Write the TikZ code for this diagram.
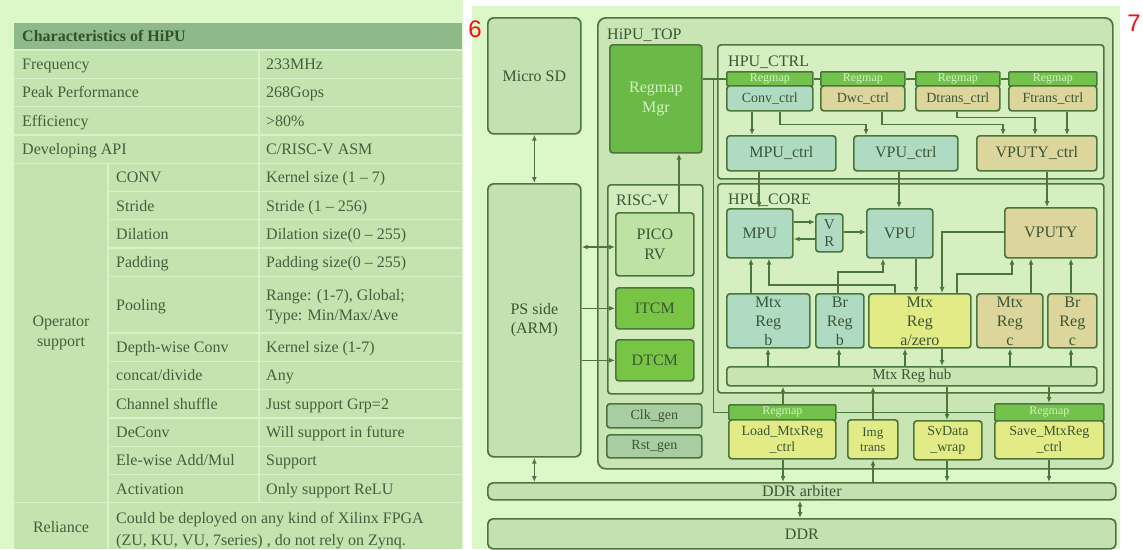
\documentclass[tikz,border=0pt]{standalone}
\usepackage{fontspec}
\setmainfont{Liberation Serif}
\newfontfamily\sansf{Liberation Sans}
\usetikzlibrary{arrows.meta,calc}
\definecolor{bgl}{HTML}{DCF7C8}
\definecolor{thead}{HTML}{8DBA88}
\definecolor{tbody}{HTML}{C3E4AF}
\definecolor{tgrid}{HTML}{D8F1C8}
\definecolor{ttext}{HTML}{435F3D}
\definecolor{thtext}{HTML}{34502E}
\definecolor{lc}{HTML}{4C763C}
\definecolor{tc}{HTML}{3A5634}
\definecolor{sdf}{HTML}{C4E1B1}
\definecolor{topf}{HTML}{C8E5B3}
\definecolor{ctrlf}{HTML}{D5EFC0}
\definecolor{riscf}{HTML}{D2ECBD}
\definecolor{mgrf}{HTML}{6BBA47}
\definecolor{mgrt}{HTML}{D6F2C2}
\definecolor{picof}{HTML}{BEE2A4}
\definecolor{itcmf}{HTML}{78C545}
\definecolor{hdrf}{HTML}{72C24C}
\definecolor{tealf}{HTML}{B0DBC3}
\definecolor{tanf}{HTML}{DCD69C}
\definecolor{yelf}{HTML}{E3EB86}
\definecolor{hubf}{HTML}{C9E3B1}
\definecolor{genf}{HTML}{A9CDA2}
\definecolor{rednum}{HTML}{F01010}
\newcommand\Bx[7][]{\pgfmathsetmacro\bxw{#5-#3}\pgfmathsetmacro\bxh{#6-#4}%
  \node[bx,#1,anchor=north west,minimum width=\bxw pt,minimum height=\bxh pt] (#2) at (#3,#4) {#7};}
\begin{document}
\begin{tikzpicture}[x=1pt,y=-1pt,
  bx/.style={draw=lc,line width=1.7pt,rounded corners=3pt,inner sep=0pt,align=center,text=tc,font=\fontsize{16}{19}\selectfont},
  f14/.style={font=\fontsize{14}{16}\selectfont},
  f13/.style={font=\fontsize{13}{15}\selectfont},
  regs/.style={font=\fontsize{16}{19}\selectfont},
  hdr/.style={fill=hdrf,text=mgrt,rounded corners=1pt,font=\fontsize{12}{12}\selectfont},
  lbl/.style={anchor=base west,inner sep=0pt,text=tc,font=\fontsize{16}{19}\selectfont},
  tl/.style={anchor=base west,inner sep=0pt,text=ttext,font=\fontsize{16}{19}\selectfont},
  tgl/.style={draw=tgrid,line width=1.3pt},
  ln/.style={draw=lc,line width=1.4pt},
  arr/.style={ln,-{Latex[length=6pt,width=5pt]}},
  darr/.style={ln,{Latex[length=6pt,width=5pt]}-{Latex[length=6pt,width=5pt]}},
  num/.style={text=rednum,inner sep=0pt,font=\sansf\fontsize{24}{24}\selectfont}
]
\useasboundingbox (0,0) rectangle (1143,549);
\fill[white] (0,0) rectangle (1143,549);
% ---------------- left: table ----------------
\fill[bgl] (0,0) rectangle (463,549);
\fill[thead] (14,23) rectangle (462,50);
\fill[tbody] (14,50) rectangle (462,549);
\foreach \y in {50,78.3,106.6,134.9,163.2,502.8} \draw[tgl] (14,\y) -- (462,\y);
\foreach \y in {191.5,219.8,248.1,276.4,333,361.3,389.6,417.9,446.2,474.5} \draw[tgl] (108,\y) -- (462,\y);
\draw[tgl] (259,50) -- (259,502.8);
\draw[tgl] (108,163.2) -- (108,549);
\node[anchor=base west,inner sep=0pt,text=thtext,font=\bfseries\fontsize{16}{19}\selectfont] (th) at (22,41) {Characteristics of HiPU};
\node[tl] (a1) at (22,69.6) {Frequency};          \node[tl] (b1) at (266,69.6) {233MHz};
\node[tl] (a2) at (22,97.9) {Peak Performance};   \node[tl] (b2) at (266,97.9) {268Gops};
\node[tl] (a3) at (22,126.2) {Efficiency};        \node[tl] (b3) at (266,126.2) {>80\%};
\node[tl] (a4) at (22,154.5) {Developing API};    \node[tl] (b4) at (266,154.5) {C/RISC-V ASM};
\node[tl] (a5) at (116,182.8) {CONV};             \node[tl] (b5) at (266,182.8) {Kernel size (1 – 7)};
\node[tl] (a6) at (116,211.1) {Stride};           \node[tl] (b6) at (266,211.1) {Stride (1 – 256)};
\node[tl] (a7) at (116,239.4) {Dilation};         \node[tl] (b7) at (266,239.4) {Dilation size(0 – 255)};
\node[tl] (a8) at (116,267.7) {Padding};          \node[tl] (b8) at (266,267.7) {Padding size(0 – 255)};
\node[tl] (a9) at (116,310.2) {Pooling};
\node[tl] (b9a) at (266,300) {Range: (1-7), Global;};
\node[tl] (b9b) at (266,320) {Type: Min/Max/Ave};
\node[tl] (a10) at (116,352.6) {Depth-wise Conv}; \node[tl] (b10) at (266,352.6) {Kernel size (1-7)};
\node[tl] (a11) at (116,380.9) {concat/divide};   \node[tl] (b11) at (266,380.9) {Any};
\node[tl] (a12) at (116,409.2) {Channel shuffle}; \node[tl] (b12) at (266,409.2) {Just support Grp=2};
\node[tl] (a13) at (116,437.5) {DeConv};          \node[tl] (b13) at (266,437.5) {Will support in future};
\node[tl] (a14) at (116,465.8) {Ele-wise Add/Mul};\node[tl] (b14) at (266,465.8) {Support};
\node[tl] (a15) at (116,494.1) {Activation};      \node[tl] (b15) at (266,494.1) {Only support ReLU};
\node[text=ttext,align=center,inner sep=0pt,font=\fontsize{16}{20}\selectfont] (op) at (61,333) {Operator\\support};
\node[text=ttext,inner sep=0pt,font=\fontsize{16}{19}\selectfont] (rel) at (61,527) {Reliance};
\node[tl] (r1) at (116,523.5) {Could be deployed on any kind of Xilinx FPGA};
\node[tl] (r2) at (116,545.5) {(ZU, KU, VU, 7series) , do not rely on Zynq.};
% ---------------- right: block diagram ----------------
\fill[bgl] (472,6) rectangle (1120,549);
\node[num] (n6) at (475,29) {6};
\node[num] (n7) at (1134,23) {7};
\Bx[fill=sdf,rounded corners=6pt]{microsd}{487}{17}{580}{133}{Micro SD}
\Bx[fill=sdf,rounded corners=6pt]{pside}{487}{183}{580}{456}{PS side\\(ARM)}
\Bx[fill=topf,rounded corners=8pt]{hipu}{597}{17}{1112}{468}{}
\node[lbl] (hipulbl) at (607,39) {HiPU\_TOP};
\Bx[fill=mgrf,text=mgrt,font=\fontsize{16}{20}\selectfont]{regmgr}{609}{44}{701}{152}{Regmap\\Mgr}
\Bx[fill=riscf]{riscv}{607}{184}{702}{393}{}
\node[lbl] (risclbl) at (616,205) {RISC-V};
\Bx[fill=picof,font=\fontsize{16}{20}\selectfont]{pico}{615}{212}{693}{275}{PICO\\RV}
\Bx[fill=itcmf]{itcm}{615}{287}{693}{328}{ITCM}
\Bx[fill=itcmf]{dtcm}{615}{339}{693}{380}{DTCM}
\Bx[fill=genf,f14]{clk}{606}{403}{701}{427}{Clk\_gen}
\Bx[fill=genf,f14]{rst}{606}{434}{701}{457}{Rst\_gen}
% HPU_CTRL
\Bx[fill=ctrlf]{hpuctrl}{717}{44}{1103}{178}{}
\node[lbl] (ctrllbl) at (728,66) {HPU\_CTRL};
\Bx[hdr]{convh}{726}{71}{812}{85}{Regmap}
\Bx[fill=tealf,f14]{conv}{726}{85}{812}{110}{Conv\_ctrl}
\Bx[hdr]{dwch}{820}{71}{904}{85}{Regmap}
\Bx[fill=tanf,f14]{dwc}{820}{85}{904}{110}{Dwc\_ctrl}
\Bx[hdr]{dtransh}{915}{71}{999}{85}{Regmap}
\Bx[fill=tanf,f14]{dtrans}{915}{85}{999}{110}{Dtrans\_ctrl}
\Bx[hdr]{ftransh}{1008}{71}{1096}{85}{Regmap}
\Bx[fill=tanf,f14]{ftrans}{1008}{85}{1096}{110}{Ftrans\_ctrl}
\Bx[fill=tealf]{mpuctrl}{726}{135}{835}{170}{MPU\_ctrl}
\Bx[fill=tealf]{vpuctrl}{853}{135}{957}{170}{VPU\_ctrl}
\Bx[fill=tanf]{vputyctrl}{976}{135}{1096}{170}{VPUTY\_ctrl}
% HPU_CORE
\Bx[fill=ctrlf]{hpucore}{717}{183}{1103}{392}{}
\node[lbl] (corelbl) at (728,204) {HPU\_CORE};
\Bx[fill=tealf]{mpu}{726}{208}{792}{257}{MPU}
\Bx[fill=tealf,font=\fontsize{15}{17}\selectfont]{vr}{815}{213}{842}{251}{V\\R}
\Bx[fill=tealf]{vpu}{866}{208}{932}{257}{VPU}
\Bx[fill=tanf]{vputy}{1004}{207}{1096}{257}{VPUTY}
\Bx[fill=tealf,regs]{mtxb}{726}{293}{809}{347}{Mtx\\Reg\\b}
\Bx[fill=tealf,regs]{brb}{815}{293}{863}{347}{Br\\Reg\\b}
\Bx[fill=yelf,regs]{mtxa}{868}{293}{970}{347}{Mtx\\Reg\\a/zero}
\Bx[fill=tanf,regs]{mtxc}{976}{293}{1042}{347}{Mtx\\Reg\\c}
\Bx[fill=tanf,regs]{brc}{1047}{293}{1096}{347}{Br\\Reg\\c}
\Bx[fill=hubf,font=\fontsize{15}{17}\selectfont]{hub}{726}{366}{1096}{385}{Mtx Reg hub}
% bottom row
\Bx[hdr]{loadh}{728}{404}{835}{419}{Regmap}
\Bx[fill=yelf,f14]{load}{728}{419}{835}{458}{Load\_MtxReg\\\_ctrl}
\Bx[fill=yelf,f13]{img}{847}{419}{897}{458}{Img\\trans}
\Bx[fill=yelf,f14]{svdata}{913}{420}{981}{459}{SvData\\\_wrap}
\Bx[hdr]{saveh}{994}{403}{1103}{420}{Regmap}
\Bx[fill=yelf,f14]{save}{994}{420}{1103}{458}{Save\_MtxReg\\\_ctrl}
\Bx[fill=sdf,rounded corners=5pt]{arbiter}{487}{482}{1115}{499}{DDR arbiter}
\Bx[fill=sdf,rounded corners=5pt]{ddr}{487}{518}{1115}{548}{DDR}
% ---------------- connectors ----------------
\draw[darr] (microsd.south) -- (pside.north);
\draw[darr] (pside.east |- 0,247) -- (pico.west |- 0,247);
\draw[arr] (pside.east |- itcm.west) -- (itcm.west);
\draw[arr] (pside.east |- dtcm.west) -- (dtcm.west);
\draw[arr] (pico.north -| 679,0) -- (regmgr.south -| 679,0);
% regmap bus
\draw[ln] (regmgr.east |- convh.west) -- (convh.west);
\draw[ln] (convh.east) -- (dwch.west);
\draw[ln] (dwch.east) -- (dtransh.west);
\draw[ln] (dtransh.east) -- (ftransh.west);
\draw[ln] ($(regmgr.east |- convh.west)+(11,0)$) |- (loadh.west);
\draw[ln] (loadh.east) -- (saveh.west |- loadh.east);
% ctrl
\draw[arr] (conv.south -| 752,0) -- (mpuctrl.north -| 752,0);
\draw[arr] (conv.south -| 780,0) -- ++(0,13) -| (vpuctrl.north -| 866,0);
\draw[arr] (dwc.south -| 882,0) -- ++(0,13) -| (vputyctrl.north -| 1003,0);
\draw[arr] (dtrans.south -| 957,0) -- ++(0,6) -| (vputyctrl.north -| 1035,0);
\draw[arr] (ftrans.south -| 1067,0) -- (vputyctrl.north -| 1067,0);
\draw[arr] (mpuctrl.south -| 759,0) -- (mpu.north -| 759,0);
\draw[arr] (vpuctrl.south -| 899,0) -- (vpu.north -| 899,0);
\draw[arr] (vputyctrl.south -| 1047,0) -- (vputy.north -| 1047,0);
% core
\draw[arr] (mpu.east |- 0,222) -- (vr.west |- 0,222);
\draw[arr] (vr.west |- 0,239) -- (mpu.east |- 0,239);
\draw[arr] (vr.east |- 0,232) -- (vpu.west |- 0,232);
\draw[arr] (mtxb.north -| 751,0) -- (mpu.south -| 751,0);
\draw[arr] (mtxa.north -| 895,0) -- ++(0,-8) -| (mpu.south -| 769,0);
\draw[arr] (brb.north -| 838,0) -- ++(0,-21) -| (vpu.south -| 883,0);
\draw[arr] (vpu.south -| 916,0) -- (mtxa.north -| 916,0);
\draw[arr] (vputy.west |- 0,232) -| (mtxa.north -| 942,0);
\draw[arr] (mtxa.north -| 957,0) -- ++(0,-19) -| (vputy.south -| 1012,0);
\draw[arr] (mtxc.north -| 1031,0) -- (vputy.south -| 1031,0);
\draw[arr] (brc.north -| 1071,0) -- (vputy.south -| 1071,0);
\draw[arr] (hub.north -| 768,0) -- (mtxb.south -| 768,0);
\draw[arr] (hub.north -| 839,0) -- (brb.south -| 839,0);
\draw[arr] (hub.north -| 905,0) -- (mtxa.south -| 905,0);
\draw[arr] (mtxa.south -| 942,0) -- (hub.north -| 942,0);
\draw[arr] (hub.north -| 1010,0) -- (mtxc.south -| 1010,0);
\draw[arr] (hub.north -| 1071,0) -- (brc.south -| 1071,0);
% bottom
\draw[arr] (loadh.north -| 783,0) -- (hub.south -| 783,0);
\draw[arr] (load.south -| 783,0) -- (arbiter.north -| 783,0);
\draw[arr] (arbiter.north -| 873,0) -- (img.south -| 873,0);
\draw[arr] (img.north -| 873,0) -- (hub.south -| 873,0);
\draw[arr] (hub.south -| 947,0) -- (svdata.north -| 947,0);
\draw[arr] (svdata.south -| 947,0) -- (arbiter.north -| 947,0);
\draw[arr] (hub.south -| 1049,0) -- (saveh.north -| 1049,0);
\draw[arr] (save.south -| 1049,0) -- (arbiter.north -| 1049,0);
\draw[darr] (pside.south) -- (arbiter.north -| pside.south);
\draw[darr] (arbiter.south -| 800,0) -- (ddr.north -| 800,0);
\end{tikzpicture}
\end{document}
